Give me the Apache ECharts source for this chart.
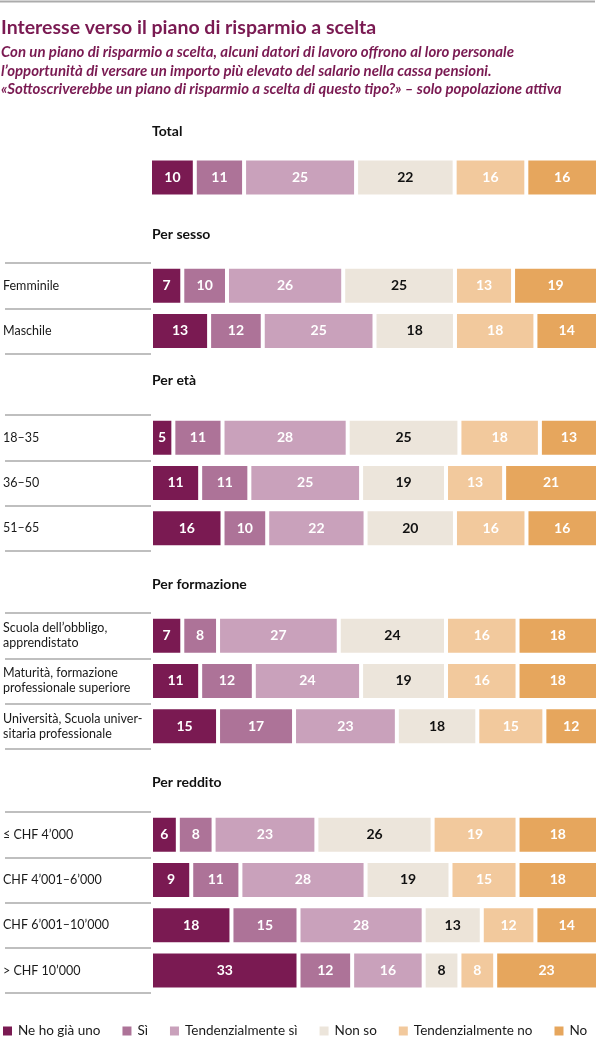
<!DOCTYPE html>
<html>
<head>
<meta charset="utf-8">
<script src="https://cdn.jsdelivr.net/npm/echarts@6/dist/echarts.min.js"></script>
<style>
html,body{margin:0;padding:0;background:#fff;}
#chart{width:599px;height:1042px;}
</style>
</head>
<body>
<div id="chart"></div>
<script>
// ---- Data ----
const rowLabels = [
  'Total',
  'Femminile', 'Maschile',
  '18–35', '36–50', '51–65',
  'Scuola dell’obbligo,\napprendistato', 'Maturità, formazione\nprofessionale superiore', 'Università, Scuola univer-\nsitaria professionale',
  '≤ CHF 4’000', 'CHF 4’001–6’000', 'CHF 6’001–10’000', '> CHF 10’000'
];
const groupHeaders = ['Total', 'Per sesso', 'Per età', 'Per formazione', 'Per reddito'];
const groupSizes = [1, 2, 3, 3, 4];
const seriesNames = ['Ne ho già uno', 'Sì', 'Tendenzialmente sì', 'Non so', 'Tendenzialmente no', 'No'];
const neHoGiaUno        = [10, 7, 13, 5, 11, 16, 7, 11, 15, 6, 9, 18, 33];
const si                = [11, 10, 12, 11, 11, 10, 8, 12, 17, 8, 11, 15, 12];
const tendenzialmenteSi = [25, 26, 25, 28, 25, 22, 27, 24, 23, 23, 28, 28, 16];
const nonSo             = [22, 25, 18, 25, 19, 20, 24, 19, 18, 26, 19, 13, 8];
const tendenzialmenteNo = [16, 13, 18, 18, 13, 16, 16, 16, 15, 19, 15, 12, 8];
const no                = [16, 19, 14, 13, 21, 16, 18, 18, 12, 18, 18, 14, 23];
const seriesValues = [neHoGiaUno, si, tendenzialmenteSi, nonSo, tendenzialmenteNo, no];

// ---- Styles ----
const colors = ['#7A1A52', '#AD7398', '#C9A1BB', '#ECE5DB', '#F2C99D', '#E6A65D'];
const labelColors = ['#fff', '#fff', '#fff', '#111', '#fff', '#fff'];
const purple = '#7A1A52';
const gridTops = [155, 263, 415, 613, 812];
const slot = 45.3;
const headerTops = [124, 227, 373, 577, 775];

const grids = [], xAxes = [], yAxes = [], series = [], titles = [];
titles.push({
  text: 'Interesse verso il piano di risparmio a scelta',
  left: 1, top: 18, padding: 0,
  textStyle: {fontFamily: 'Lato', fontSize: 19.5, fontWeight: 'bold', color: purple}
});
titles.push({
  text: 'Con un piano di risparmio a scelta, alcuni datori di lavoro offrono al loro personale\nl’opportunità di versare un importo più elevato del salario nella cassa pensioni.\n«Sottoscriverebbe un piano di risparmio a scelta di questo tipo?» – solo popolazione attiva',
  left: 1, top: 43, padding: 0,
  textStyle: {fontFamily: 'Lato', fontSize: 15, fontWeight: 'bold', fontStyle: 'italic', color: purple, lineHeight: 18.5}
});

let start = 0;
groupSizes.forEach((n, g) => {
  const cats = rowLabels.slice(start, start + n);
  grids.push({left: 150, right: 1, top: gridTops[g], height: (g === 0 ? 45 : slot * n)});
  xAxes.push({type: 'value', gridIndex: g, min: 0, max: 100, show: false});
  yAxes.push({
    type: 'category', gridIndex: g, inverse: true, data: cats, offset: 4,
    axisLine: {show: false},
    axisTick: {show: g !== 0, length: 146, lineStyle: {color: '#ababab', width: 1.5}},
    axisLabel: {show: g !== 0, align: 'left', margin: 144, fontFamily: 'Lato', fontSize: 12.5, color: '#1a1a1a', lineHeight: 15}
  });
  titles.push({
    text: groupHeaders[g], left: 152, top: headerTops[g], padding: 0,
    textStyle: {fontFamily: 'Lato', fontSize: 14, fontWeight: 'bold', color: '#111'}
  });
  seriesNames.forEach((name, s) => {
    series.push({
      name: name, type: 'bar', stack: 'g' + g, xAxisIndex: g, yAxisIndex: g,
      barWidth: 38,
      data: seriesValues[s].slice(start, start + n),
      itemStyle: {color: colors[s], borderColor: '#fff', borderWidth: 2},
      label: {show: true, position: 'inside', formatter: '{c}', fontFamily: 'Lato', fontSize: 14, fontWeight: 'bold', color: labelColors[s]},
      emphasis: {disabled: true},
      animation: false
    });
  });
  start += n;
});

const chart = echarts.init(document.getElementById('chart'));
chart.setOption({
  animation: false,
  textStyle: {fontFamily: 'Lato'},
  title: titles,
  grid: grids,
  xAxis: xAxes,
  yAxis: yAxes,
  legend: {
    data: seriesNames, left: 1, top: 1024, padding: 0, icon: 'rect', itemWidth: 11, itemHeight: 11, itemGap: 20,
    textStyle: {fontFamily: 'Lato', fontSize: 13.5, color: '#1a1a1a'},
    selectedMode: false
  },
  graphic: [
    {type: 'line', shape: {x1: 0, y1: 1.5, x2: 595, y2: 1.5}, style: {stroke: '#ababab', lineWidth: 2}}
  ],
  series: series
});
</script>
</body>
</html>
